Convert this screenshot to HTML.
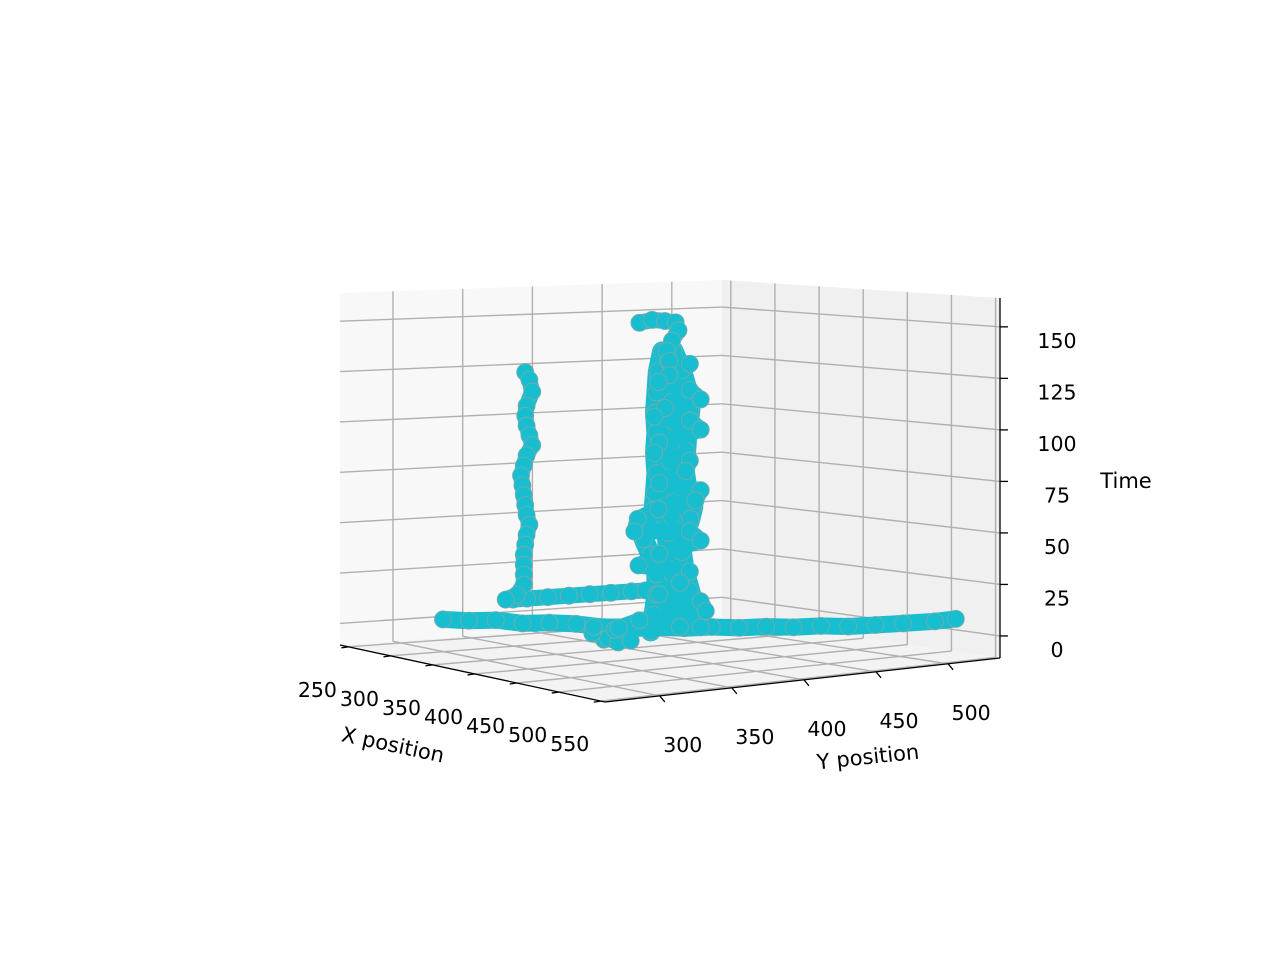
<!DOCTYPE html>
<html><head><meta charset="utf-8"><style>
html,body{margin:0;padding:0;background:#fff;}
svg{display:block;font-family:"DejaVu Sans","Liberation Sans",sans-serif;}
</style></head><body>
<svg id="chart" width="1280" height="960" viewBox="0 0 1280 960" xmlns="http://www.w3.org/2000/svg">
<g id="panes"></g>
<g id="grid"></g>
<g id="axes"></g>
<g id="marks"></g>
<text x="393" y="752" font-size="21" text-anchor="middle" transform="rotate(12 393 745)">X position</text>
<text x="868" y="764" font-size="21" text-anchor="middle" transform="rotate(-6 868 757)">Y position</text>
<text x="1126" y="488" font-size="21" text-anchor="middle">Time</text>
</svg>
<script>
const xTicks=[250,300,350,400,450,500,550];
const yTicks=[300,350,400,450,500];
const tTicks=[0,25,50,75,100,125,150];
// central column (zigzag core)
const colX=[397,397,397,398,398,397,396,397,398,397,396,398,399,397,396,398,399,397,396,398,398,397,399,398,396,395,396,398,399,397,396,398,398,397,399,400,397,396,398,399];
const colY=[380,389,398,405,407,403,400,401,415,401,394,415,422,398,391,415,422,394,391,415,412,394,422,419,394,380,377,415,422,394,380,415,408,394,422,425,380,366,408,422];
const colT=[155,156,155,154,150,145,140,135,133,128,125,120,115,112,108,105,100,95,90,85,80,75,70,65,62,58,52,50,45,40,35,30,25,20,15,10,8,5,3,2];
// central column left edge chain
const colLX=[397,397,397,397,397,397,397,397,397,397,397,397,397,397,397,397];
const colLY=[396,393,392,391,392,391,392,391,390,386,383,388,392,392,390,388];
const colLT=[140,130,120,110,100,90,80,70,62,56,48,40,30,20,10,2];
// central column middle chain
const colMX=[397,397,397,397,397,397,397,397,397,397,397,397,397,397];
const colMY=[400,402,403,404,403,402,403,404,403,400,401,403,404,405];
const colMT=[135,125,115,105,95,85,75,65,58,50,40,30,20,8];
// central column right edge chain
const colRX=[397,397,397,397,397,397,397,397,397,397,397,397,397,397,397];
const colRY=[404,410,414,416,414,413,412,414,418,416,412,410,412,416,420];
const colRT=[140,130,120,110,100,90,80,70,62,56,48,40,30,20,10];
// left column
const leftX=[256,256,256,256,256,256,256,256,256,256,256,256,256,256,256,256,256,256,256,256,256,256,256,256];
const leftY=[385,388,390,386,385,386,388,390,386,384,382,383,384,385,386,388,386,385,384,384,384,384,379,371];
const leftT=[122,118,112,105,100,95,90,85,80,75,70,65,60,55,50,45,40,35,30,25,20,15,10,8];
// connecting segment at left column base
const segX=[258,258,258,258,258,258,258,258];
const segY=[375,385,400,415,430,445,460,470];
const segT=[8,8,8,8,8,8,8,8];
// blob near central base
const blobX=[397,410,397,385,420,400,405,390];
const blobY=[355,350,365,370,360,345,375,352];
const blobT=[0,2,-2,3,1,4,6,6];
// long bottom track
const hX=[271,285,300,315,330,345,360,375,390,405,420,435,450,465,480,495,510,525,540,549];
const hY=[317,327,337,347,357,367,377,387,397,407,417,427,437,447,457,467,477,487,500,509];
const hT=[2,2,3,2,3,3,2,2,3,3,4,4,5,5,6,6,7,8,9,10];

const xmin=240,xmax=555,ymin=262,ymax=536,tmin=-10.7,tmax=164;
const L=[340,645],F=[605,702],R=[1000,658],B=[722,618];
const hL=352,hF=362,hR=360,hB=338;
function P(X,Y,T){
  const u=(X-xmin)/(xmax-xmin),v=(Y-ymin)/(ymax-ymin),w=(T-tmin)/(tmax-tmin);
  const a=(1-u)*(1-v),b=u*(1-v),c=u*v,d=(1-u)*v;
  const fx=L[0]*a+F[0]*b+R[0]*c+B[0]*d;
  const fy=L[1]*a+F[1]*b+R[1]*c+B[1]*d;
  const h=hL*a+hF*b+hR*c+hB*d;
  return [fx,fy-w*h];
}
const NS='http://www.w3.org/2000/svg';
function mk(tag,attrs,parent){const e=document.createElementNS(NS,tag);for(const k in attrs)e.setAttribute(k,attrs[k]);parent.appendChild(e);return e;}
const panes=document.getElementById('panes'),grid=document.getElementById('grid'),axes=document.getElementById('axes'),marks=document.getElementById('marks');
function poly(pts){return pts.map(p=>p[0].toFixed(1)+','+p[1].toFixed(1)).join(' ');}
let e;
e=mk('polygon',{points:poly([P(xmin,ymin,tmin),P(xmin,ymax,tmin),P(xmin,ymax,tmax),P(xmin,ymin,tmax)]),fill:'#f8f8f8'},panes);


e=mk('polygon',{points:poly([P(xmin,ymax,tmin),P(xmax,ymax,tmin),P(xmax,ymax,tmax),P(xmin,ymax,tmax)]),fill:'#f0f0f0'},panes);


e=mk('polygon',{points:poly([P(xmin,ymin,tmin),P(xmax,ymin,tmin),P(xmax,ymax,tmin),P(xmin,ymax,tmin)]),fill:'#f3f3f3'},panes);


function line(p,q,parent,stroke,w,name){const l=mk('line',{x1:p[0],y1:p[1],x2:q[0],y2:q[1],stroke:stroke,'stroke-width':w},parent);
  
  return l;}
const gc='#b0b0b0';
xTicks.forEach(x=>{line(P(x,ymin,tmin),P(x,ymax,tmin),grid,gc,1.4,'floor-grid-x');line(P(x,ymax,tmin),P(x,ymax,tmax),grid,gc,1.4,'wall-grid-x');});
yTicks.forEach(y=>{line(P(xmin,y,tmin),P(xmax,y,tmin),grid,gc,1.4,'floor-grid-y');line(P(xmin,y,tmin),P(xmin,y,tmax),grid,gc,1.4,'wall-grid-y');});
tTicks.forEach(t=>{line(P(xmin,ymin,t),P(xmin,ymax,t),grid,gc,1.4,'wall-grid-t');line(P(xmin,ymax,t),P(xmax,ymax,t),grid,gc,1.4,'wall-grid-t');});
line(P(xmin,ymin,tmin),P(xmax,ymin,tmin),axes,'#000',1.3,'x-axis-line');
line(P(xmax,ymin,tmin),P(xmax,ymax,tmin),axes,'#000',1.3,'y-axis-line');
line(P(xmax,ymax,tmin),P(xmax,ymax,tmax),axes,'#000',1.3,'time-axis-line');
function label(txt,x,y,name){const t=mk('text',{x:x,y:y,'font-size':20.5,'text-anchor':'middle'},axes);t.textContent=txt;
  
  }
xTicks.forEach(x=>{const p=P(x,ymin,tmin);line(p,[p[0]-7,p[1]+1],axes,'#000',1.3,'x-tick');label(String(x),p[0]-31,p[1]+50,'x-tick-label');});
yTicks.forEach(y=>{const p=P(xmax,y,tmin);line(p,[p[0]+5,p[1]+6],axes,'#000',1.3,'y-tick');label(String(y),p[0]+23,p[1]+56,'y-tick-label');});
tTicks.forEach(t=>{const p=P(xmax,ymax,t);line(p,[p[0]+8,p[1]],axes,'#000',1.3,'time-tick');label(String(t),p[0]+57,p[1]+21,'time-tick-label');});
const color='#17becf';
function series(xs,ys,ts,name,w){
  const pts=xs.map((x,i)=>P(x,ys[i],ts[i]));
  const pl=mk('polyline',{points:poly(pts),fill:'none',stroke:color,'stroke-width':w,'stroke-linejoin':'round','stroke-linecap':'round'},marks);
  
  
  pts.forEach(p=>{const c=mk('circle',{cx:p[0].toFixed(1),cy:p[1].toFixed(1),r:8.5,fill:color,stroke:'#7fa8a8','stroke-width':0.8},marks);
    
    });
}
series(hX,hY,hT,'bottom-track',17);
series(segX,segY,segT,'connecting-track',16);
series(blobX,blobY,blobT,'base-cluster',16);
series(leftX,leftY,leftT,'left-column',16);
series(colLX,colLY,colLT,'central-column-left',20);
series(colMX,colMY,colMT,'central-column-middle',22);
series(colRX,colRY,colRT,'central-column-right',20);
series(colX,colY,colT,'central-column',16);
</script>
</body></html>
